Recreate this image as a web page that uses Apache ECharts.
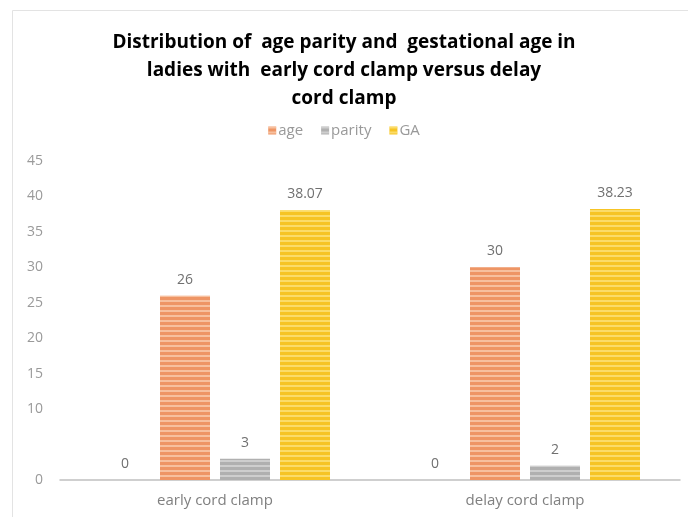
<!DOCTYPE html>
<html>
<head>
<meta charset="utf-8">
<script src="https://cdn.jsdelivr.net/npm/echarts@6/dist/echarts.min.js"></script>
<style>html,body{margin:0;padding:0;background:#fff;}#c{width:688px;height:517px;}</style>
</head>
<body>
<div id="c"></div>
<script>
const categories = ['early cord clamp', 'delay cord clamp'];
const blankValues = [0, 0];
const ageValues = [26, 30];
const parityValues = [3, 2];
const gaValues = [38.07, 38.23];
const yTicks = [0, 5, 10, 15, 20, 25, 30, 35, 40, 45];
const hiddenTickLabels = [5];
const titleText = 'Distribution of  age parity and  gestational age in\nladies with  early cord clamp versus delay\ncord clamp';

const chart = echarts.init(document.getElementById('c'), null, {renderer: 'canvas'});
const stripe = (c) => ({symbol: 'rect', symbolSize: 1, dashArrayX: [1, 0], dashArrayY: [2, 3], rotation: 0, color: c});
const FONT = '"Open Sans", sans-serif';
const lbl = {show: true, position: 'top', distance: 9, color: '#707070', fontSize: 14, fontFamily: FONT};

chart.setOption({
  animation: false,
  backgroundColor: '#fff',
  graphic: [{type: 'rect', shape: {x: 12.5, y: 10.5, width: 700, height: 540}, style: {fill: 'none', stroke: '#e3e3e3', lineWidth: 1}, silent: true}],
  title: {
    text: titleText, left: 'center', top: 24,
    textStyle: {fontFamily: FONT, fontWeight: 'bold', fontSize: 19, color: '#000', lineHeight: 28}
  },
  legend: {
    data: ['age', 'parity', 'GA'], top: 118, left: 'center', itemWidth: 8, itemHeight: 8, itemGap: 18,
    icon: 'rect', textStyle: {color: '#999', fontSize: 15, fontFamily: FONT, padding: [0, 0, 0, -3]}
  },
  grid: {left: 60, right: 8, top: 161, bottom: 37, containLabel: false},
  xAxis: {
    type: 'category', data: categories,
    axisLine: {show: true, lineStyle: {color: '#c0c0c0', width: 1.5}},
    axisTick: {show: false},
    axisLabel: {color: '#808080', fontSize: 15, margin: 13, fontFamily: FONT}
  },
  yAxis: {
    type: 'value', min: yTicks[0], max: yTicks[yTicks.length - 1], interval: yTicks[1] - yTicks[0],
    axisLine: {show: false}, axisTick: {show: false}, splitLine: {show: false},
    axisLabel: {color: '#9a9a9a', fontSize: 14, margin: 17, fontFamily: FONT,
      formatter: v => hiddenTickLabels.includes(v) ? '' : String(v)}
  },
  series: [
    {name: 'blank', type: 'bar', data: blankValues, barWidth: 50, barGap: '20%', label: lbl, itemStyle: {color: '#ffffff'}},
    {name: 'age', type: 'bar', data: ageValues, barWidth: 50, barGap: '20%', label: lbl,
      itemStyle: {color: '#ee9565', decal: stripe('rgba(255,235,215,0.5)')}},
    {name: 'parity', type: 'bar', data: parityValues, barWidth: 50, barGap: '20%', label: lbl,
      itemStyle: {color: '#b0b0b0', decal: stripe('rgba(235,235,235,0.5)')}},
    {name: 'GA', type: 'bar', data: gaValues, barWidth: 50, barGap: '20%', label: lbl,
      itemStyle: {color: '#f6c425', decal: stripe('rgba(255,240,160,0.55)')}}
  ]
});
</script>
</body>
</html>
